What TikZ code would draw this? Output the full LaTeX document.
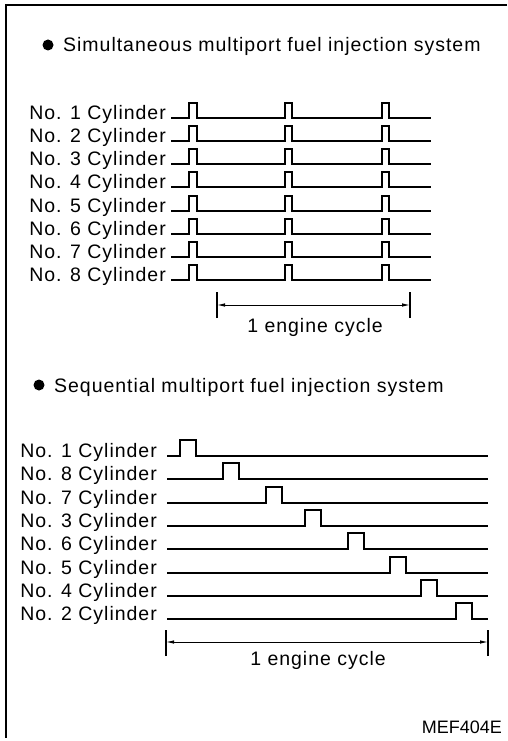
\documentclass[tikz,border=0pt]{standalone}
\usepackage{fontspec}
\setmainfont{Liberation Sans}
\newfontfamily\tracked{Liberation Sans}[LetterSpace=5]
\usepackage{tikz}
\usetikzlibrary{arrows.meta, positioning}

\tikzset{
	cyl/.style={font=\tracked\fontsize{19.5}{22}\selectfont, inner sep=0pt, anchor=base east},
	heading/.style={font=\tracked\fontsize{19.5}{22}\selectfont, inner sep=0pt, anchor=base west},
	wave/.style={line width=2pt, line join=miter},
	bar/.style={line width=1.2pt},
	span/.style={line width=0.9pt, {Latex[length=8pt,width=3.5pt]}-{Latex[length=8pt,width=3.5pt]}},
}

\begin{document}
\begin{tikzpicture}[x=1pt, y=-1pt]
	\useasboundingbox (0, 0) rectangle (507, 741);
	% Frame:
	\draw[line width=2pt] (507, 5) -- (6, 5) -- (6, 738);
	% Simultaneous injection:
	\fill (48, 45) circle (5.5);
	\node[heading](T1) at (63, 52){Simultaneous multiport fuel injection system};
	\foreach \i in {1,...,8}{
		\pgfmathsetmacro{\yl}{118 + 23.15*(\i-1)}
		\node[cyl](S\i) at (166, \yl+1.5){No. \i\ Cylinder};
		\draw[wave] (171, \yl) -- (189, \yl) -- (189, \yl-15) -- (197, \yl-15) -- (197, \yl)
			-- (285, \yl) -- (285, \yl-15) -- (292, \yl-15) -- (292, \yl)
			-- (382, \yl) -- (382, \yl-15) -- (389, \yl-15) -- (389, \yl) -- (431, \yl);
	}
	\coordinate (A1) at (217, 305);
	\coordinate (B1) at (410, 305);
	\draw[bar] ([yshift=-13pt]A1) -- ([yshift=13pt]A1);
	\draw[bar] ([yshift=-13pt]B1) -- ([yshift=13pt]B1);
	\draw[span] (A1) -- (B1);
	\node[heading, anchor=base](C1) at (315, 332){1 engine cycle};
	% Sequential injection:
	\fill (39, 385) circle (5.5);
	\node[heading](T2) at (54, 392){Sequential multiport fuel injection system};
	\foreach \n/\r [count=\i] in {1/180, 8/223, 7/266, 3/305, 6/348, 5/390, 4/421, 2/456}{
		\pgfmathsetmacro{\yl}{456 + 23.3*(\i-1)}
		\node[cyl](Q\i) at (157, \yl+1.5){No. \n\ Cylinder};
		\draw[wave] (167, \yl) -- (\r, \yl) -- (\r, \yl-16) -- (\r+16, \yl-16) -- (\r+16, \yl) -- (488, \yl);
	}
	\coordinate (A2) at (166, 642);
	\coordinate (B2) at (488, 642);
	\draw[bar] ([yshift=-14pt]A2) -- ([yshift=12pt]A2);
	\draw[bar] ([yshift=-14pt]B2) -- ([yshift=12pt]B2);
	\draw[span] (A2) -- (B2);
	\node[heading, anchor=base](C2) at (318, 665){1 engine cycle};
	% Figure code:
	\node[font=\fontsize{18}{20}\selectfont, inner sep=0pt, anchor=base east](M) at (502, 733){MEF404E};
\end{tikzpicture}
\end{document}
